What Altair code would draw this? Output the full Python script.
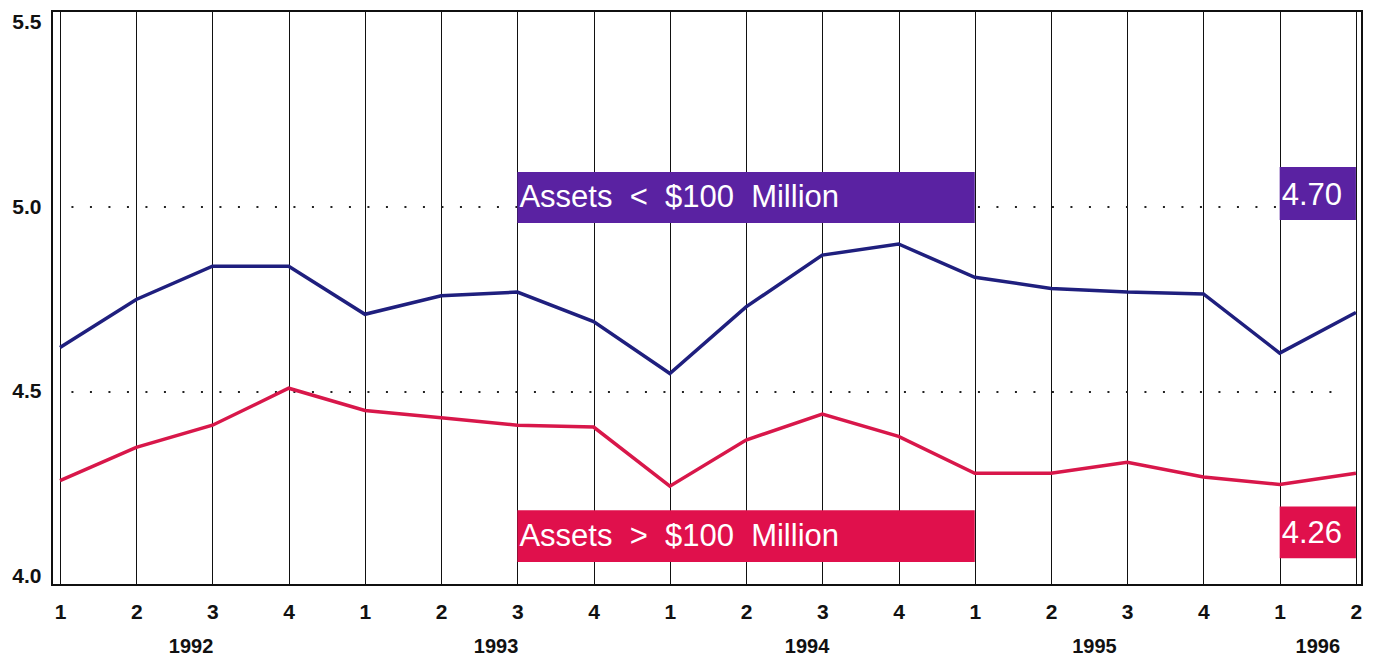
import altair as alt
import pandas as pd

# ---- data ----
quarter_idx = list(range(18))
quarter_labels = ["1", "2", "3", "4", "1", "2", "3", "4", "1", "2", "3", "4",
                  "1", "2", "3", "4", "1", "2"]
small_banks = [4.62, 4.75, 4.84, 4.84, 4.71, 4.76, 4.77, 4.69, 4.55, 4.73,
               4.87, 4.90, 4.81, 4.78, 4.77, 4.765, 4.605, 4.715]
large_banks = [4.26, 4.35, 4.41, 4.51, 4.45, 4.43, 4.41, 4.405, 4.245, 4.37,
               4.44, 4.38, 4.28, 4.28, 4.31, 4.27, 4.25, 4.28]
year_labels = ["1992", "1993", "1994", "1995", "1996"]
year_pos = [1.72, 5.72, 9.8, 13.57, 16.5]
ref_levels = [4.5, 5.0]

# annotation boxes (data coordinates)
box_text = ["Assets \u00a0<\u00a0 $100 \u00a0Million",
            "Assets \u00a0>\u00a0 $100 \u00a0Million", "4.70", "4.26"]
box_x = [6, 6, 16, 16]
box_x2 = [12, 12, 17, 17]
box_y = [4.957, 4.04, 4.965, 4.05]
box_y2 = [5.095, 4.18, 5.108, 4.19]
box_ty = [5.025, 4.107, 5.03, 4.115]
box_col = ["#5a22a2", "#e0104c", "#5a22a2", "#e0104c"]

PURPLE_LINE = "#1f1f7e"
RED_LINE = "#d8174a"
FONT = "Liberation Sans"

W, H = 1310, 574
xs = alt.Scale(domain=[-0.105, 17.08], nice=False, zero=False)
ys = alt.Scale(domain=[3.978, 5.53], nice=False, zero=False)

lines_df = pd.DataFrame({
    "i": quarter_idx * 2,
    "v": small_banks + large_banks,
    "s": ["small"] * 18 + ["large"] * 18,
})
ref_df = pd.DataFrame({"y": ref_levels, "x": [0.15] * 2, "x2": [16.85] * 2})
box_df = pd.DataFrame({"t": box_text, "x": box_x, "x2": box_x2, "y": box_y,
                       "y2": box_y2, "ty": box_ty, "c": box_col})
year_df = pd.DataFrame({"t": year_labels, "x": year_pos})

label_expr = "[" + ",".join('"%s"' % q for q in quarter_labels) + "][datum.value]"

base_x = alt.X("i:Q", scale=xs, axis=alt.Axis(
    values=quarter_idx, labelExpr=label_expr, grid=True, gridColor="#111",
    gridWidth=1, gridOpacity=1, ticks=False, domain=False, title=None,
    labelFont=FONT, labelFontWeight="bold", labelFontSize=21, labelColor="#111",
    labelPadding=16, labelFlush=False))
base_y = alt.Y("v:Q", scale=ys, axis=alt.Axis(
    values=[4.0, 4.5, 5.0, 5.5], format=".1f", grid=False, ticks=False,
    domain=False, title=None, labelFont=FONT, labelFontWeight="bold",
    labelFontSize=21, labelColor="#111", labelPadding=11))

lines = alt.Chart(lines_df).mark_line(strokeWidth=3.5).encode(
    x=base_x, y=base_y,
    color=alt.Color("s:N", scale=alt.Scale(domain=["small", "large"],
                                           range=[PURPLE_LINE, RED_LINE]),
                    legend=None),
)

refs = alt.Chart(ref_df).mark_rule(color="#222", strokeWidth=2,
                                   strokeDash=[2, 16.5]).encode(
    x=alt.X("x:Q", scale=xs), x2="x2:Q", y=alt.Y("y:Q", scale=ys))

boxes = alt.Chart(box_df).mark_rect().encode(
    x=alt.X("x:Q", scale=xs), x2="x2:Q",
    y=alt.Y("y:Q", scale=ys), y2="y2:Q",
    color=alt.Color("c:N", scale=None))

box_labels = alt.Chart(box_df).mark_text(
    align="left", baseline="middle", dx=2, font=FONT, fontSize=31,
    color="white").encode(
    x=alt.X("x:Q", scale=xs), y=alt.Y("ty:Q", scale=ys), text="t:N")

years = alt.Chart(year_df).mark_text(
    align="center", baseline="middle", font=FONT, fontSize=20,
    fontWeight="bold", color="#111").encode(
    x=alt.X("x:Q", scale=xs), y=alt.value(H + 62), text="t:N")

frame = alt.Chart(year_df).mark_rect(
    fill=None, stroke="#111", strokeWidth=1.5).encode(
    x=alt.value(0), x2=alt.value(W), y=alt.value(0), y2=alt.value(H))

chart = alt.layer(refs, lines, boxes, box_labels, years, frame).properties(
    width=W, height=H,
    autosize=alt.AutoSizeParams(type="none"),
    padding={"left": 44, "top": 3, "right": 8, "bottom": 74},
).configure_view(stroke=None).configure(background="white")

chart.save("out.html", embed_options={"renderer": "svg", "actions": False})
